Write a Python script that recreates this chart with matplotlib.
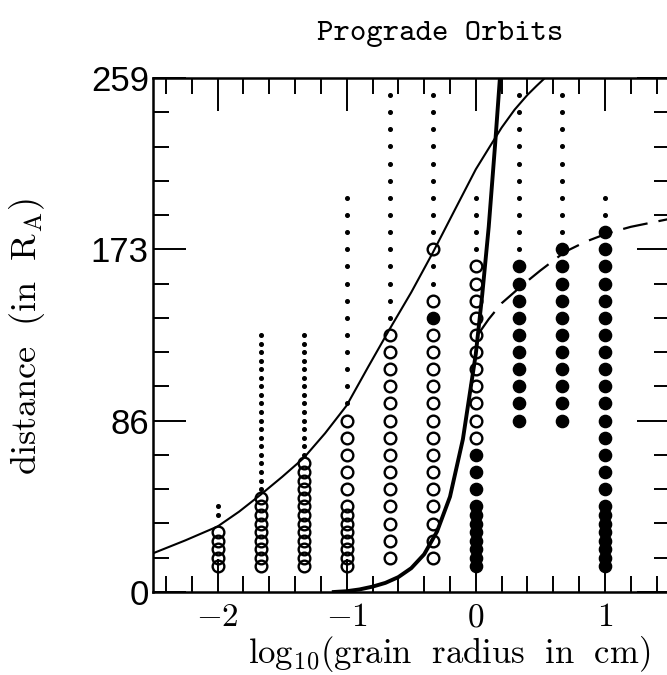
import matplotlib
matplotlib.use('Agg')
import matplotlib.pyplot as plt

plt.rcParams['mathtext.fontset'] = 'cm'
plt.rcParams['lines.scale_dashes'] = False

# grain size columns: log10(radius / cm)
col_x = [-2.0, -1.667, -1.333, -1.0, -0.667, -0.333, 0.0, 0.333, 0.667, 1.0]

# open rings, filled disks and small dots, per column (distance in R_A)
open_d = {
    -2.0: [13.0, 17.3, 21.6, 25.9, 30.2],
    -1.667: [13.0, 17.3, 21.6, 25.9, 30.2, 34.5, 38.9, 43.2, 47.5],
    -1.333: [13.0, 17.3, 21.6, 25.9, 30.2, 34.5, 38.9, 43.2, 47.5, 51.8,
             56.1, 60.4, 64.8],
    -1.0: [13.0, 17.3, 21.6, 25.9, 30.2, 34.5, 38.9, 43.2, 51.8, 60.4,
           69.1, 77.7, 86.3],
    -0.667: [17.3, 25.9, 34.5, 43.2, 51.8, 60.4, 69.1, 77.7, 86.3, 95.0,
             103.6, 112.2, 120.9, 129.5],
    -0.333: [17.3, 25.9, 34.5, 43.2, 51.8, 60.4, 69.1, 77.7, 86.3, 95.0,
             103.6, 112.2, 120.9, 129.5, 146.8, 172.7],
    0.0: [77.7, 86.3, 95.0, 103.6, 112.2, 120.9, 129.5, 138.1, 146.8,
          155.4, 164.1],
}
filled_d = {
    -0.333: [138.1],
    0.0: [13.0, 17.3, 21.6, 25.9, 30.2, 34.5, 38.9, 43.2, 51.8, 60.4, 69.1],
    0.333: [86.3, 95.0, 103.6, 112.2, 120.9, 129.5, 138.1, 146.8, 155.4,
            164.1],
    0.667: [86.3, 95.0, 103.6, 112.2, 120.9, 129.5, 138.1, 146.8, 155.4,
            164.1, 172.7],
    1.0: [13.0, 17.3, 21.6, 25.9, 30.2, 34.5, 38.9, 43.2, 51.8, 60.4, 69.1,
          77.7, 86.3, 95.0, 103.6, 112.2, 120.9, 129.5, 138.1, 146.8, 155.4,
          164.1, 172.7, 181.3],
}
dot_d = {
    -2.0: [38.9, 43.2],
    -1.667: [51.8, 56.1, 60.4, 64.8, 69.1, 73.4, 77.7, 82.0, 86.3, 90.7,
             95.0, 99.3, 103.6, 107.9, 112.2, 116.6, 120.9, 125.2, 129.5],
    -1.333: [69.1, 73.4, 77.7, 82.0, 86.3, 90.7, 95.0, 99.3, 103.6, 107.9,
             112.2, 116.6, 120.9, 125.2, 129.5],
    -1.0: [95.0, 103.6, 112.2, 120.9, 129.5, 138.1, 146.8, 155.4, 164.1,
           172.7, 181.3, 189.9, 198.6],
    -0.667: [138.1, 146.8, 155.4, 164.1, 172.7, 181.3, 189.9, 198.6, 207.2,
             215.8, 224.5, 233.1, 241.7, 250.4],
    -0.333: [155.4, 164.1, 181.3, 189.9, 198.6, 207.2, 215.8, 224.5, 233.1,
             241.7, 250.4],
    0.0: [172.7, 181.3, 189.9, 198.6],
    0.333: [172.7, 181.3, 189.9, 198.6, 207.2, 215.8, 224.5, 233.1, 241.7,
            250.4],
    0.667: [181.3, 189.9, 198.6, 207.2, 215.8, 224.5, 233.1, 241.7, 250.4],
    1.0: [189.9, 198.6],
}

# curves
thin_x = [-2.5, -2.25, -2.0, -1.833, -1.667, -1.5, -1.333, -1.167, -1.0,
          -0.833, -0.667, -0.5, -0.333, -0.167, 0.0, 0.109, 0.2, 0.3, 0.4,
          0.47, 0.535, 0.6]
thin_y = [19.5, 26.0, 33.0, 40.5, 49.0, 58.0, 67.5, 80.0, 94.0, 113.5,
          132.5, 151.0, 171.0, 192.0, 213.0, 224.5, 234.0, 243.0, 250.5,
          255.0, 259.0, 262.0]
thick_x = [-1.1, -1.0, -0.9, -0.8, -0.7, -0.6, -0.5, -0.4, -0.3, -0.2,
           -0.1, 0.0, 0.05, 0.1, 0.15, 0.19]
thick_y = [0.0, 0.4, 1.3, 2.7, 4.6, 7.5, 12.0, 19.0, 30.5, 48.0, 77.0,
           120.0, 150.0, 184.0, 226.0, 262.0]
dash_x = [0.03, 0.1, 0.2, 0.362, 0.5, 0.69, 0.85, 1.018, 1.2, 1.35, 1.5]
dash_y = [131.0, 137.5, 145.5, 154.7, 162.0, 171.4, 176.5, 180.7, 184.0,
          186.0, 188.0]

x_major = [-2, -1, 0, 1]
x_major_labels = [r'$-2$', r'$-1$', r'$0$', r'$1$']
x_minor = [-2.4, -2.2, -1.8, -1.6, -1.4, -1.2, -0.8, -0.6, -0.4, -0.2,
           0.2, 0.4, 0.6, 0.8, 1.2, 1.4]
y_major = [0, 86.33, 172.67, 259]
y_major_labels = ['0', '86', '173', '259']
y_minor = [17.27, 34.53, 51.8, 69.07, 103.6, 120.87, 138.13, 155.4, 189.93,
           207.2, 224.47, 241.73]

fig = plt.figure(figsize=(6.67, 6.75), dpi=100)
ax = fig.add_axes([153 / 667, 1 - 592 / 675, (669.5 - 153) / 667,
                   (592 - 78) / 675])

ax.plot(thin_x, thin_y, color='black', lw=1.5)
ax.plot(thick_x, thick_y, color='black', lw=2.8)
ax.plot(dash_x, dash_y, color='black', lw=1.6, dashes=(18, 8))

for x, vals in dot_d.items():
    ax.plot([x] * len(vals), vals, 'o', ms=2.6, color='black', ls='none')
for x, vals in open_d.items():
    ax.plot([x] * len(vals), vals, 'o', ms=8.4, mfc='none', mec='black',
            mew=1.7, ls='none')
for x, vals in filled_d.items():
    ax.plot([x] * len(vals), vals, 'o', ms=8.8, color='black', ls='none')

ax.set_xlim(-2.5, 1.5)
ax.set_ylim(0, 259)

ax.set_xticks(x_major)
ax.set_xticklabels(x_major_labels, fontsize=24)
ax.set_xticks(x_minor, minor=True)
ax.set_yticks(y_major)
ax.set_yticklabels(y_major_labels, fontsize=25, family='Liberation Sans')
ax.set_yticks(y_minor, minor=True)
ax.tick_params(which='both', direction='in', top=True, right=True,
               width=1.4, color='black')
ax.tick_params(which='major', length=24)
ax.tick_params(which='minor', length=11.5)
ax.tick_params(axis='x', which='major', pad=6)
ax.tick_params(axis='y', which='major', pad=3)
for s in ax.spines.values():
    s.set_linewidth(1.8)

fig.text(440 / 667, 1 - 34 / 675, 'Prograde Orbits', family='cmtt10',
         fontsize=22.5, ha='center', va='center')
fig.text(449 / 667, 1 - 654 / 675,
         r'$\mathrm{log_{10}(grain\ \ radius\ \ in\ \ cm)}$', fontsize=25,
         ha='center', va='center')
fig.text(27 / 667, 1 - 337 / 675, r'$\mathrm{distance\ \ (in\ \ R_A)}$',
         fontsize=26, rotation=90, ha='center', va='center')

fig.savefig('out.png', dpi=100)
